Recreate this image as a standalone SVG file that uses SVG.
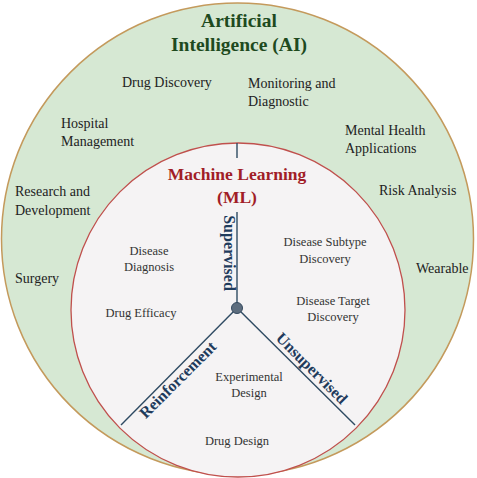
<svg xmlns="http://www.w3.org/2000/svg" width="477" height="478" viewBox="0 0 477 478">
<style>
.lbl{font-family:"Liberation Serif","Times New Roman",serif;font-size:14px;fill:#222}
.in{font-family:"Liberation Serif","Times New Roman",serif;font-size:12.5px;fill:#333;text-anchor:middle}
.ttl{font-family:"Liberation Serif","Times New Roman",serif;font-weight:bold;text-anchor:middle}
.br{font-family:"Liberation Serif","Times New Roman",serif;font-weight:bold;font-size:16px;fill:#1f3b5c;text-anchor:middle}
.ln{stroke:#2e4a62;stroke-width:1.4;fill:none}
</style>
<g id="ai">
<circle cx="237.5" cy="239" r="236" fill="#d6e8d3" stroke="#c49a5c" stroke-width="1.5"/>
<text class="ttl" x="239" y="27" font-size="19.5" fill="#1e4a1e">Artificial</text>
<text class="ttl" x="239" y="51" font-size="19.5" fill="#1e4a1e">Intelligence (AI)</text>
</g>
<g id="ai-labels">
<text class="lbl" x="122" y="87">Drug Discovery</text>
<text class="lbl" x="61" y="128">Hospital</text>
<text class="lbl" x="61" y="146">Management</text>
<text class="lbl" x="248" y="88">Monitoring and</text>
<text class="lbl" x="248" y="106">Diagnostic</text>
<text class="lbl" x="345" y="135">Mental Health</text>
<text class="lbl" x="345" y="153">Applications</text>
<text class="lbl" x="15" y="196">Research and</text>
<text class="lbl" x="15" y="215">Development</text>
<text class="lbl" x="15" y="283">Surgery</text>
<text class="lbl" x="379" y="195">Risk Analysis</text>
<text class="lbl" x="416" y="273">Wearable</text>
</g>
<g id="ml">
<circle cx="238" cy="310" r="167" fill="#f5f3f4" stroke="#c0504d" stroke-width="1.3"/>
<text class="ttl" x="237" y="180" font-size="17.5" fill="#a11d27">Machine Learning</text>
<text class="ttl" x="237" y="203" font-size="17.5" fill="#a11d27">(ML)</text>
</g>
<g id="connectors">
<line class="ln" x1="237" y1="143" x2="237" y2="158"/>
<line class="ln" x1="237" y1="212" x2="237" y2="308"/>
<line class="ln" x1="237" y1="308" x2="121" y2="425"/>
<line class="ln" x1="237" y1="308" x2="355" y2="425"/>
<circle id="hub" cx="237" cy="308" r="5.5" fill="#5d6d7e" stroke="#34495e" stroke-width="1"/>
</g>
<g id="branches">
<text class="br" transform="translate(224 253) rotate(90)" y="0">Supervised</text>
<text class="br" transform="translate(178 380) rotate(-45)" y="5">Reinforcement</text>
<text class="br" transform="translate(311.5 368.5) rotate(45)" y="5">Unsupervised</text>
</g>
<g id="ml-labels">
<text class="in" x="149" y="255">Disease</text>
<text class="in" x="149" y="271">Diagnosis</text>
<text class="in" x="325" y="246">Disease Subtype</text>
<text class="in" x="325" y="263">Discovery</text>
<text class="in" x="141" y="317">Drug Efficacy</text>
<text class="in" x="333" y="305">Disease Target</text>
<text class="in" x="333" y="321">Discovery</text>
<text class="in" x="249" y="381">Experimental</text>
<text class="in" x="249" y="397">Design</text>
<text class="in" x="237" y="445">Drug Design</text>
</g>
</svg>
